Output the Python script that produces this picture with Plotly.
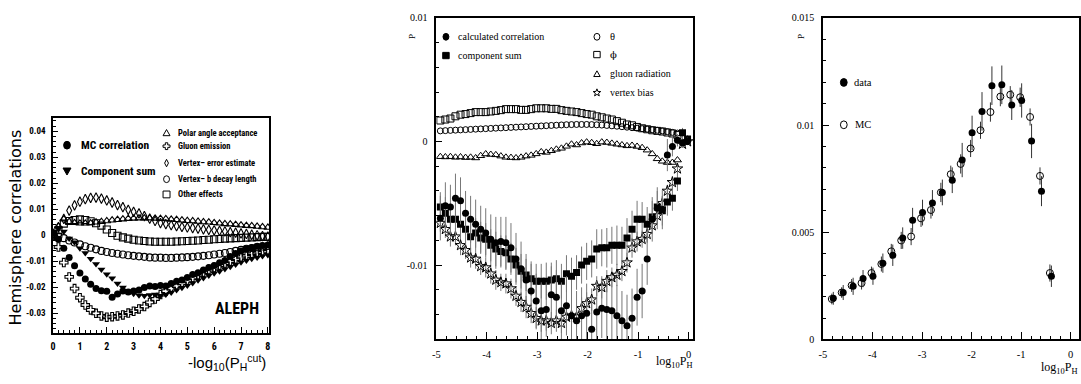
import math
import plotly.graph_objects as go

# ---------------- Panel 1 (ALEPH) data ----------------
X1 = [0.0, 0.2, 0.4, 0.6, 0.8, 1.0, 1.2, 1.4, 1.6, 1.8, 2.0, 2.2, 2.4, 2.6, 2.8, 3.0, 3.2, 3.4, 3.6, 3.8,
      4.0, 4.2, 4.4, 4.6, 4.8, 5.0, 5.2, 5.4, 5.6, 5.8, 6.0, 6.2, 6.4, 6.6, 6.8, 7.0, 7.2, 7.4, 7.6, 7.8, 8.0]
MC_CORR = [0.0005, -0.0015, -0.005, -0.0085, -0.0117, -0.0145, -0.0168, -0.0188, -0.0205, -0.0213, -0.0215,
           -0.0238, -0.0226, -0.0214, -0.0218, -0.0214, -0.021, -0.0201, -0.0195, -0.0197, -0.0193, -0.0195,
           -0.0185, -0.0177, -0.0172, -0.0162, -0.0151, -0.0144, -0.0133, -0.0124, -0.0116, -0.0106, -0.0097,
           -0.0082, -0.0070, -0.0060, -0.0052, -0.0048, -0.0042, -0.0039, -0.0037]
COMP_SUM = [0.001, 0.0025, 0.0015, -0.0012, -0.0027, -0.005, -0.0068, -0.009, -0.011, -0.0132, -0.015,
            -0.0165, -0.0185, -0.0201, -0.0216, -0.0225, -0.0231, -0.0232, -0.023, -0.0228, -0.0232, -0.0228,
            -0.022, -0.021, -0.0202, -0.0193, -0.0183, -0.0173, -0.0164, -0.0155, -0.0146, -0.0138, -0.013,
            -0.0121, -0.0112, -0.0104, -0.0097, -0.009, -0.0085, -0.008, -0.0076]
POLAR = [0.001, 0.0035, 0.0062, 0.0052, 0.0048, 0.0046, 0.0046, 0.0047, 0.005, 0.0052, 0.0055, 0.0058, 0.006,
         0.0062, 0.0064, 0.0065, 0.0066, 0.0066, 0.0066, 0.0065, 0.0064, 0.0063, 0.0061, 0.006, 0.0058, 0.0056,
         0.0055, 0.0053, 0.0051, 0.005, 0.0048, 0.0046, 0.0044, 0.0043, 0.0041, 0.0039, 0.0037, 0.0036, 0.0034,
         0.0032, 0.003]
GLUON1 = [0.0, -0.0045, -0.0105, -0.016, -0.0205, -0.024, -0.0268, -0.0287, -0.03, -0.031, -0.0315, -0.0313,
          -0.031, -0.0306, -0.0299, -0.0292, -0.0283, -0.0274, -0.0258, -0.0245, -0.0228, -0.0215, -0.0205,
          -0.0195, -0.0185, -0.0175, -0.0163, -0.0152, -0.0142, -0.0132, -0.0124, -0.0115, -0.0107, -0.0099,
          -0.0092, -0.0085, -0.0079, -0.0073, -0.0068, -0.0064, -0.006]
VTX_ERR = [0.0005, 0.003, 0.0063, 0.0095, 0.0115, 0.0129, 0.0139, 0.0144, 0.0145, 0.0141, 0.0134, 0.0126,
           0.0116, 0.0108, 0.0098, 0.009, 0.0084, 0.0074, 0.0064, 0.0055, 0.0047, 0.0043, 0.0039, 0.0035,
           0.0032, 0.003, 0.0028, 0.0026, 0.0023, 0.0021, 0.0019, 0.0017, 0.0015, 0.0012, 0.001, 0.0007,
           0.0005, 0.0002, 0.0, -0.0003, -0.0005]
VTX_B = [0.0, -0.0004, -0.0011, -0.002, -0.0028, -0.0035, -0.0042, -0.0048, -0.0054, -0.006, -0.0064, -0.0068,
         -0.0071, -0.0074, -0.0077, -0.0079, -0.0081, -0.0083, -0.0085, -0.0086, -0.0086, -0.0087, -0.0087,
         -0.0086, -0.0085, -0.0084, -0.0083, -0.0081, -0.0079, -0.0077, -0.0074, -0.0071, -0.0068, -0.0064,
         -0.006, -0.0056, -0.0052, -0.0049, -0.0046, -0.0043, -0.0041]
OTHER = [0.0005, 0.002, 0.0045, 0.0055, 0.0059, 0.0061, 0.0059, 0.0054, 0.0046, 0.0037, 0.0022, 0.0009,
         -0.0002, -0.0008, -0.0013, -0.0017, -0.002, -0.0022, -0.0024, -0.0025, -0.0025, -0.0025, -0.0025,
         -0.0024, -0.0023, -0.0022, -0.0021, -0.002, -0.0018, -0.0017, -0.0015, -0.0014, -0.0013, -0.0012,
         -0.0011, -0.001, -0.0009, -0.0008, -0.0007, -0.0006, -0.0006]
P1_YTICKS = [-0.03, -0.02, -0.01, 0.0, 0.01, 0.02, 0.03, 0.04]
P1_YTEXT = ["-0.03", "-0.02", "-0.01", "0", "0.01", "0.02", "0.03", "0.04"]
P1_XTICKS = [0, 1, 2, 3, 4, 5, 6, 7, 8]

# ---------------- Panel 2 data ----------------
X2 = [-4.92, -4.82, -4.72, -4.62, -4.52, -4.42, -4.32, -4.22, -4.12, -4.02,
      -3.92, -3.82, -3.72, -3.62, -3.52, -3.42, -3.32, -3.22, -3.12, -3.02,
      -2.92, -2.82, -2.72, -2.62, -2.52, -2.42, -2.32, -2.22, -2.12, -2.02,
      -1.92, -1.82, -1.72, -1.62, -1.52, -1.42, -1.32, -1.22, -1.12, -1.02,
      -0.92, -0.82, -0.72, -0.62, -0.52, -0.42, -0.32, -0.22, -0.12, -0.02]
CALC = [-0.0062, -0.0052, -0.0053, -0.0046, -0.0048, -0.0058, -0.0063, -0.0067, -0.0071, -0.0074,
        -0.0079, -0.0082, -0.0081, -0.0082, -0.0086, -0.0095, -0.0103, -0.0112, -0.0121, -0.0129,
        -0.0137, -0.0136, -0.0124, -0.0126, -0.0137, -0.0133, -0.0141, -0.0145, -0.0141, -0.0139,
        -0.0152, -0.0138, -0.0135, -0.0136, -0.0137, -0.0141, -0.0145, -0.0149, -0.0143, -0.0126,
        -0.0121, -0.0095, -0.0063, -0.0054, -0.0055, -0.0011, -0.0004, 0.0001, -0.0001, 0.0]
CALC_ERR = [0.0018, 0.0019, 0.0018, 0.0020, 0.0019, 0.0018, 0.0019, 0.0020, 0.0019, 0.0020,
            0.0020, 0.0021, 0.0020, 0.0021, 0.0020, 0.0021, 0.0022, 0.0021, 0.0022, 0.0022,
            0.0023, 0.0022, 0.0023, 0.0022, 0.0023, 0.0024, 0.0023, 0.0024, 0.0023, 0.0024,
            0.0024, 0.0025, 0.0024, 0.0025, 0.0024, 0.0025, 0.0024, 0.0025, 0.0024, 0.0023,
            0.0022, 0.0021, 0.0018, 0.0017, 0.0016, 0.0013, 0.0008, 0.0005, 0.0004, 0.0003]
COMP = [-0.0053, -0.0058, -0.0063, -0.0063, -0.0067, -0.0071, -0.0077, -0.0074, -0.0078, -0.0079,
        -0.0084, -0.0087, -0.0089, -0.009, -0.0095, -0.01, -0.0105, -0.0108, -0.0111, -0.0113,
        -0.0113, -0.0113, -0.0112, -0.0111, -0.0113, -0.0107, -0.0109, -0.0106, -0.01, -0.0097,
        -0.0095, -0.0087, -0.0086, -0.0086, -0.0084, -0.0084, -0.0084, -0.0078, -0.0071, -0.0063,
        -0.0063, -0.0067, -0.0061, -0.0053, -0.0056, -0.0049, -0.0046, -0.0032, 0.0007, 0.0002]
COMP_ERR = [0.0012, 0.0013, 0.0012, 0.0013, 0.0012, 0.0013, 0.0013, 0.0012, 0.0013, 0.0013,
            0.0013, 0.0014, 0.0013, 0.0014, 0.0013, 0.0014, 0.0014, 0.0013, 0.0014, 0.0014,
            0.0014, 0.0015, 0.0014, 0.0015, 0.0014, 0.0015, 0.0015, 0.0014, 0.0015, 0.0015,
            0.0015, 0.0016, 0.0015, 0.0016, 0.0015, 0.0016, 0.0015, 0.0016, 0.0015, 0.0015,
            0.0014, 0.0014, 0.0013, 0.0013, 0.0012, 0.0011, 0.0010, 0.0008, 0.0004, 0.0003]
VBIAS = [-0.0066, -0.0071, -0.0077, -0.0077, -0.0084, -0.0088, -0.0094, -0.0095, -0.0101, -0.0102,
         -0.0107, -0.0112, -0.0114, -0.0115, -0.0119, -0.0125, -0.013, -0.0134, -0.0139, -0.0143,
         -0.0145, -0.0145, -0.0147, -0.0145, -0.0147, -0.0142, -0.0141, -0.0142, -0.0135, -0.0131,
         -0.0128, -0.0117, -0.0118, -0.0113, -0.011, -0.0108, -0.0105, -0.0098, -0.0086, -0.0081,
         -0.0079, -0.0075, -0.0068, -0.006, -0.005, -0.004, -0.0033, -0.0022, -0.0002, 0.0]
VBIAS_ERR = [0.0007, 0.0007, 0.0008, 0.0007, 0.0008, 0.0007, 0.0008, 0.0008, 0.0007, 0.0008,
             0.0008, 0.0008, 0.0007, 0.0008, 0.0008, 0.0008, 0.0008, 0.0009, 0.0008, 0.0009,
             0.0009, 0.0008, 0.0009, 0.0009, 0.0008, 0.0009, 0.0009, 0.0008, 0.0009, 0.0009,
             0.0009, 0.0008, 0.0009, 0.0009, 0.0008, 0.0009, 0.0008, 0.0008, 0.0008, 0.0008,
             0.0007, 0.0007, 0.0007, 0.0006, 0.0006, 0.0005, 0.0005, 0.0004, 0.0003, 0.0002]
THETA = [0.00086, 0.00088, 0.0009, 0.00092, 0.00094, 0.00096, 0.00098, 0.001, 0.00102, 0.00104,
         0.00106, 0.00108, 0.0011, 0.00112, 0.00114, 0.00116, 0.00118, 0.0012, 0.00122, 0.00124,
         0.00126, 0.00128, 0.0013, 0.00132, 0.00134, 0.00136, 0.00137, 0.00138, 0.00138, 0.00138,
         0.00137, 0.00135, 0.00133, 0.0013, 0.00127, 0.00124, 0.0012, 0.00116, 0.00112, 0.00108,
         0.00104, 0.001, 0.00096, 0.00091, 0.00086, 0.0008, 0.00074, 0.00068]
PHI = [0.0017, 0.00178, 0.00186, 0.00204, 0.00217, 0.00222, 0.0023, 0.00238, 0.00238, 0.00238,
       0.00243, 0.00248, 0.00254, 0.00262, 0.00262, 0.00262, 0.00256, 0.00256, 0.00262, 0.00269,
       0.00269, 0.00269, 0.00264, 0.00264, 0.00254, 0.00248, 0.00243, 0.00238, 0.0023, 0.00222,
       0.00217, 0.00204, 0.00196, 0.00186, 0.00178, 0.00165, 0.00152, 0.00138, 0.00131, 0.00118,
       0.00107, 0.00099, 0.00091, 0.00086, 0.00081, 0.00073, 0.00065, 0.00052]
GLUON2 = [-0.00123, -0.00125, -0.00123, -0.00128, -0.00125, -0.0013, -0.00128, -0.00133, -0.00115, -0.00101,
          -0.00105, -0.00108, -0.00118, -0.00128, -0.0013, -0.00133, -0.00128, -0.00118, -0.00112, -0.001,
          -0.00084, -0.00088, -0.00075, -0.00063, -0.00055, -0.00039, -0.00022, -0.00028, -0.00012, -0.00005,
          -0.0001, -0.00018, -0.00005, -0.00008, -0.00015, -0.00022, -0.00028, -0.00035, -0.00032, -0.0004,
          -0.0005, -0.0007, -0.001, -0.0014, -0.0016, -0.0017, -0.0017, -0.0015]
P2_YTICKS = [-0.01, 0.0, 0.01]
P2_YTEXT = ["-0.01", "0", "0.01"]
LOG_XTICKS = [-5, -4, -3, -2, -1, 0]
LOG_XTEXT = ["-5", "-4", "-3", "-2", "-1", "0"]

# ---------------- Panel 3 data ----------------
X3_DATA = [-4.79, -4.59, -4.39, -4.19, -3.99, -3.79, -3.59, -3.39, -3.19, -2.99, -2.79, -2.59,
           -2.39, -2.19, -1.99, -1.79, -1.59, -1.39, -1.19, -0.99, -0.79, -0.59, -0.39]
X3_MC = [-4.82, -4.62, -4.42, -4.22, -4.02, -3.82, -3.62, -3.42, -3.22, -3.02, -2.82, -2.62,
         -2.42, -2.22, -2.02, -1.82, -1.62, -1.42, -1.22, -1.02, -0.82, -0.62, -0.42]
DATA_Y = [0.00192, 0.00219, 0.00248, 0.00284, 0.00295, 0.00356, 0.00393, 0.00473, 0.00556, 0.00592,
          0.00637, 0.00686, 0.00743, 0.00837, 0.00964, 0.01064, 0.01184, 0.01188, 0.01094, 0.01115,
          0.00926, 0.00692, 0.00295]
DATA_ERR = [0.0003, 0.00035, 0.0004, 0.0004, 0.0004, 0.00045, 0.0005, 0.0005, 0.00058, 0.0006,
            0.0006, 0.0006, 0.0006, 0.0008, 0.0008, 0.0009, 0.0009, 0.0009, 0.0007, 0.0008,
            0.0008, 0.0007, 0.0005]
MC_Y = [0.00189, 0.00219, 0.00252, 0.00263, 0.0031, 0.00352, 0.00411, 0.00462, 0.0048, 0.00565,
        0.00604, 0.00686, 0.00771, 0.00819, 0.00891, 0.00976, 0.01061, 0.01133, 0.01142, 0.0113,
        0.01038, 0.00763, 0.0031]
MC_ERR = [0.00025, 0.00025, 0.0003, 0.0003, 0.0003, 0.00035, 0.00035, 0.0004, 0.0004, 0.0004,
          0.0004, 0.00045, 0.0004, 0.00045, 0.0004, 0.0004, 0.00045, 0.00045, 0.0004, 0.00045,
          0.0004, 0.0004, 0.0004]
P3_YTICKS = [0.0, 0.005, 0.01, 0.015]
P3_YTEXT = ["0", "0.005", "0.01", "0.015"]

# ---------------- styling ----------------
W, H = 1081, 384
SANS_C = "Roboto Condensed"
SANS = "Liberation Sans"
SERIF = "Liberation Serif"
BLACK = "black"


def px(x):
    return x / W


def py(y):
    return 1 - y / H


fig = go.Figure()


def sc(x, y, xa, ya, symbol, size, filled=True, err=None, errcolor="#777", lw=1.0):
    marker = dict(symbol=symbol, size=size, color=BLACK)
    marker["line"] = dict(color=BLACK, width=lw) if not filled else dict(width=0)
    tr = go.Scatter(x=x, y=y, xaxis=xa, yaxis=ya, mode="markers", marker=marker,
                    showlegend=False, hoverinfo="skip")
    if err is not None:
        tr.error_y = dict(type="data", array=err, visible=True, thickness=1, width=0, color=errcolor)
    fig.add_trace(tr)


# Panel 1
sc(X1, POLAR, "x", "y", "triangle-up-open", 7, filled=False, lw=1.1)
sc(X1, OTHER, "x", "y", "square-open", 7, filled=False, lw=1.1)
sc(X1, VTX_ERR, "x", "y", "diamond-tall-open", 7, filled=False, lw=1.1)
sc(X1, VTX_B, "x", "y", "circle-open", 7, filled=False, lw=1.1)
sc(X1, GLUON1, "x", "y", "cross-open", 7, filled=False, lw=1.1)
sc(X1, COMP_SUM, "x", "y", "triangle-down", 7)
sc(X1, MC_CORR, "x", "y", "circle", 7)

# Panel 2
sc(X2[:len(PHI)], PHI, "x2", "y2", "square-open", 7, filled=False)
sc(X2[:len(THETA)], THETA, "x2", "y2", "circle-open", 6, filled=False)
sc(X2[:len(GLUON2)], GLUON2, "x2", "y2", "triangle-up-open", 7, filled=False)
sc(X2, VBIAS, "x2", "y2", "star-open", 8, filled=False, err=VBIAS_ERR)
sc(X2, COMP, "x2", "y2", "square", 7, err=COMP_ERR)
sc(X2, CALC, "x2", "y2", "circle", 7, err=CALC_ERR)

# Panel 3
sc(X3_MC, MC_Y, "x3", "y3", "circle-open", 7, filled=False, err=MC_ERR, errcolor="#333")
sc(X3_DATA, DATA_Y, "x3", "y3", "circle", 7, err=DATA_ERR, errcolor="#333")


def axis_common(**kw):
    d = dict(showline=True, mirror=True, linecolor=BLACK, linewidth=1.5, showgrid=False, zeroline=False,
             ticks="inside", tickcolor=BLACK, tickmode="array")
    d.update(kw)
    return d


fig.update_layout(
    width=W, height=H, margin=dict(l=0, r=0, t=0, b=0),
    paper_bgcolor="white", plot_bgcolor="white", showlegend=False,
    xaxis=axis_common(domain=[px(49.3), px(266.7)], range=[0, 8.06], anchor="y",
                      tickvals=P1_XTICKS, ticktext=[str(v) for v in P1_XTICKS], ticklen=7, tickwidth=1,
                      ticklabelstandoff=3,
                      tickfont=dict(family=SANS_C, size=10, color=BLACK, weight="bold"),
                      minor=dict(dtick=0.2, tick0=0, ticks="inside", ticklen=4, tickcolor=BLACK, showgrid=False)),
    yaxis=axis_common(domain=[py(337), py(115)], range=[-0.0377, 0.0452], anchor="x",
                      tickvals=P1_YTICKS, ticktext=P1_YTEXT, ticklen=5, tickwidth=1, ticklabelstandoff=4,
                      tickfont=dict(family=SANS_C, size=9, color=BLACK, weight="bold"),
                      minor=dict(dtick=0.002, tick0=0, ticks="inside", ticklen=3, tickcolor=BLACK, showgrid=False)),
    xaxis2=axis_common(domain=[px(434.3), px(692.7)], range=[-5, 0.098], anchor="y2",
                       tickvals=LOG_XTICKS, ticktext=LOG_XTEXT, ticklen=8, tickwidth=1, ticklabelstandoff=4,
                       tickfont=dict(family=SERIF, size=10.5, color=BLACK),
                       minor=dict(dtick=0.2, tick0=0, ticks="inside", ticklen=4, tickcolor=BLACK, showgrid=False)),
    yaxis2=axis_common(domain=[py(343.3), py(12.3)], range=[-0.01602, 0.01], anchor="x2",
                       tickvals=P2_YTICKS, ticktext=P2_YTEXT, ticklen=6, tickwidth=1, ticklabelstandoff=5,
                       tickfont=dict(family=SERIF, size=10, color=BLACK),
                       minor=dict(dtick=0.002, tick0=0, ticks="inside", ticklen=3, tickcolor=BLACK, showgrid=False)),
    xaxis3=axis_common(domain=[px(822.7), px(1079.5)], range=[-5, 0.157], anchor="y3",
                       tickvals=LOG_XTICKS, ticktext=LOG_XTEXT, ticklen=8, tickwidth=1, ticklabelstandoff=4,
                       tickfont=dict(family=SERIF, size=10.5, color=BLACK),
                       minor=dict(dtick=0.2, tick0=0, ticks="inside", ticklen=4, tickcolor=BLACK, showgrid=False)),
    yaxis3=axis_common(domain=[py(343.3), py(12.3)], range=[0, 0.015], anchor="x3",
                       tickvals=P3_YTICKS, ticktext=P3_YTEXT, ticklen=6, tickwidth=1, ticklabelstandoff=5,
                       tickfont=dict(family=SERIF, size=10, color=BLACK),
                       minor=dict(dtick=0.001, tick0=0, ticks="inside", ticklen=3, tickcolor=BLACK, showgrid=False)),
)


def note(x, y, text, family, size, xanchor="left", weight="normal", angle=0, yanchor="middle"):
    fig.add_annotation(x=px(x), y=py(y), xref="paper", yref="paper", text=text, showarrow=False,
                       xanchor=xanchor, yanchor=yanchor, textangle=angle,
                       font=dict(family=family, size=size, color=BLACK, weight=weight))


def key(kind, cx, cy, s, filled=False):
    """Legend key drawn as a small shape (s = full size in pixels)."""
    r = s / 2.0
    fill = BLACK if filled else "white"
    line = dict(color=BLACK, width=1)
    if kind == "circle":
        fig.add_shape(type="circle", xref="paper", yref="paper", x0=px(cx - r * 0.85), x1=px(cx + r * 0.85),
                      y0=py(cy + r), y1=py(cy - r), fillcolor=fill, line=line, layer="above")
        return
    if kind == "square":
        pts = [(-r, -r), (r, -r), (r, r), (-r, r)]
    elif kind == "tri_up":
        pts = [(0, -r), (r, r * 0.8), (-r, r * 0.8)]
    elif kind == "tri_down":
        pts = [(0, r), (r, -r * 0.8), (-r, -r * 0.8)]
    elif kind == "diamond":
        pts = [(0, -r * 1.1), (r * 0.55, 0), (0, r * 1.1), (-r * 0.55, 0)]
    elif kind == "cross":
        a, b = r * 0.35, r
        pts = [(-a, -b), (a, -b), (a, -a), (b, -a), (b, a), (a, a), (a, b), (-a, b), (-a, a), (-b, a),
               (-b, -a), (-a, -a)]
    elif kind == "star":
        pts = []
        for i in range(10):
            rr = r if i % 2 == 0 else r * 0.42
            ang = -math.pi / 2 + i * math.pi / 5
            pts.append((rr * math.cos(ang), rr * math.sin(ang)))
    path = "M " + " L ".join(f"{px(cx + dx):.6f},{py(cy + dy):.6f}" for dx, dy in pts) + " Z"
    fig.add_shape(type="path", xref="paper", yref="paper", path=path, fillcolor=fill, line=line, layer="above")


# Panel 1 texts
note(12, 228, "Hemisphere correlations", "DejaVu Sans", 16, xanchor="center", angle=-90)
note(224, 367, "-log<sub>10</sub>(P<sub>H</sub><sup>cut</sup>)", SANS, 15, xanchor="center")
note(234, 311.7, "ALEPH", SANS_C, 16, xanchor="center", weight="bold")
key("circle", 63.3, 143.3, 8, filled=True)
note(75, 143.3, "MC correlation", SANS_C, 11.5, weight="bold")
key("tri_down", 63.3, 170, 8, filled=True)
note(75, 170, "Component sum", SANS_C, 11.5, weight="bold")
for yy, kind, t in [(130.7, "tri_up", "Polar angle acceptance"),
                    (144.3, "cross", "Gluon emission"),
                    (161.7, "diamond", "Vertex\u2013 error estimate"),
                    (178.3, "circle", "Vertex\u2013 b decay length"),
                    (194.0, "square", "Other effects")]:
    key(kind, 163.3, yy, 7)
    note(173.3, yy, t, SANS_C, 8.5, weight="bold")

# Panel 2 texts
note(410, 31.7, "P", SERIF, 9, xanchor="center", angle=-90)
note(693, 367, "log<sub>10</sub>P<sub>H</sub>", SERIF, 12, xanchor="right")
key("circle", 444, 31.7, 7, filled=True)
note(454.3, 31.7, "calculated correlation", SERIF, 10)
key("square", 444, 51, 6.5, filled=True)
note(454.3, 51, "component sum", SERIF, 10)
key("circle", 595.7, 31.7, 7)
note(606.7, 31.7, "\u03b8", SERIF, 10.5)
key("square", 595.7, 50, 6.5)
note(606.7, 50, "\u03d5", "DejaVu Serif", 10)
key("tri_up", 595.7, 70, 6.5)
note(606.7, 70, "gluon radiation", SERIF, 10)
key("star", 595.7, 89.3, 8)
note(606.7, 89.3, "vertex bias", SERIF, 10)

# Panel 3 texts
note(800, 31.7, "P", SERIF, 9, xanchor="center", angle=-90)
note(1080, 373, "log<sub>10</sub>P<sub>H</sub>", SERIF, 12, xanchor="right")
key("circle", 843.7, 78.7, 8, filled=True)
note(852, 78.7, "data", SERIF, 10.5)
key("circle", 843.7, 122.3, 8)
note(852.5, 122.3, "MC", SERIF, 10.5)

fig.write_html("out.html")
